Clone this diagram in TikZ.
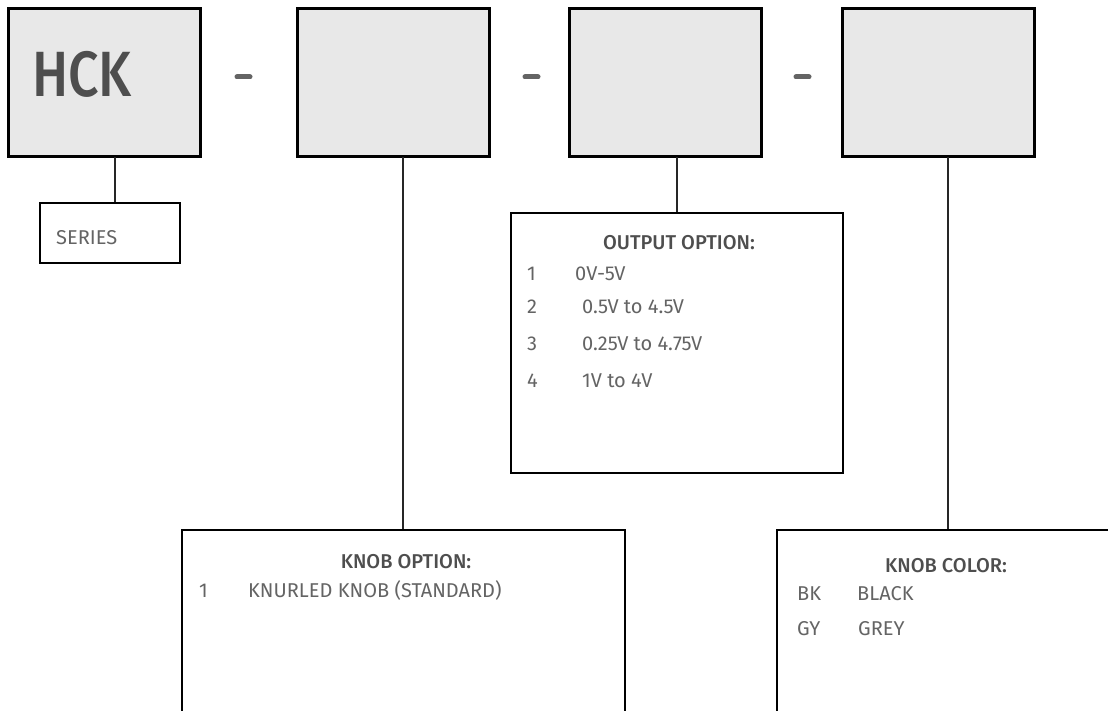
\documentclass[tikz,border=0pt]{standalone}
\usepackage{fontspec}
\setmainfont{Fira Sans}
\newfontfamily\titlefont{Fira Sans Medium}
\definecolor{boxfill}{HTML}{E8E8E8}
\definecolor{txt}{HTML}{646464}
\definecolor{ttl}{HTML}{4E4E4E}
\begin{document}
\begin{tikzpicture}[x=1pt,y=-1pt,
  topbox/.style={draw=black,line width=3pt,fill=boxfill,minimum width=192pt,minimum height=148pt,inner sep=0pt},
  lowbox/.style={draw=black,line width=1.4pt,fill=white,inner sep=0pt},
  conn/.style={draw=black!85,line width=1.1pt},
  lbl/.style={anchor=base west,inner sep=0pt,text=txt,font=\fontsize{20}{20}\selectfont},
  ttlbl/.style={anchor=base,inner sep=0pt,text=ttl,font=\fontsize{20}{20}\titlefont},
  dashmark/.style={line width=5pt,draw=txt,line cap=round}]
\useasboundingbox (0,0) rectangle (1108,711);
\clip (0,0) rectangle (1108,711);
% top boxes
\node[topbox] (b1) at (104,83) {};
\node[topbox] (b2) at (393,83) {};
\node[topbox] (b3) at (665,83) {};
\node[topbox] (b4) at (938,83) {};
\node[anchor=base west,inner sep=0pt,text=ttl,font=\fontsize{64}{64}\titlefont] (hck) at (32,97) {\scalebox{0.84}[1]{HCK}};
% dashes
\coordinate (d1a) at (237,77); \coordinate (d1b) at (250,77);
\coordinate (d2a) at (525,77); \coordinate (d2b) at (538,77);
\coordinate (d3a) at (796,77); \coordinate (d3b) at (809,77);
\draw[dashmark] (d1a) -- (d1b);
\draw[dashmark] (d2a) -- (d2b);
\draw[dashmark] (d3a) -- (d3b);
% lower boxes
\node[lowbox,minimum width=140pt,minimum height=60pt] (series) at (110,233) {};
\node[lowbox,minimum width=332pt,minimum height=260pt] (outopt) at (677,343) {};
\node[lowbox,minimum width=443pt,minimum height=200pt] (knobopt) at (403.5,630) {};
\node[lowbox,minimum width=343pt,minimum height=200pt] (knobcol) at (948.5,630) {};
% connectors
\coordinate (c1) at (115,157);
\coordinate (c2) at (403,157);
\coordinate (c3) at (677,157);
\coordinate (c4) at (948,157);
\draw[conn] (c1) -- (c1 |- series.north);
\draw[conn] (c2) -- (c2 |- knobopt.north);
\draw[conn] (c3) -- (c3 |- outopt.north);
\draw[conn] (c4) -- (c4 |- knobcol.north);
% texts
\node[lbl] (tseries) at (56,245) {SERIES};
\node[ttlbl] (tout) at (679,250) {OUTPUT OPTION:};
\node[lbl] (o1n) at (527,280) {1};
\node[lbl] (o1t) at (575,280) {0V-5V};
\node[lbl] (o2n) at (527,313) {2};
\node[lbl] (o2t) at (582,313) {0.5V to 4.5V};
\node[lbl] (o3n) at (527,350) {3};
\node[lbl] (o3t) at (582,350) {0.25V to 4.75V};
\node[lbl] (o4n) at (527,387) {4};
\node[lbl] (o4t) at (582,387) {1V to 4V};
\node[ttlbl] (tknob) at (406,568) {KNOB OPTION:};
\node[lbl] (k1n) at (199,597) {1};
\node[lbl] (k1t) at (248,597) {KNURLED KNOB (STANDARD)};
\node[ttlbl] (tcol) at (946,572) {KNOB COLOR:};
\node[lbl] (bkn) at (797,600) {BK};
\node[lbl] (bkt) at (857,600) {BLACK};
\node[lbl] (gyn) at (797,635) {GY};
\node[lbl] (gyt) at (858,635) {GREY};
\end{tikzpicture}
\end{document}
